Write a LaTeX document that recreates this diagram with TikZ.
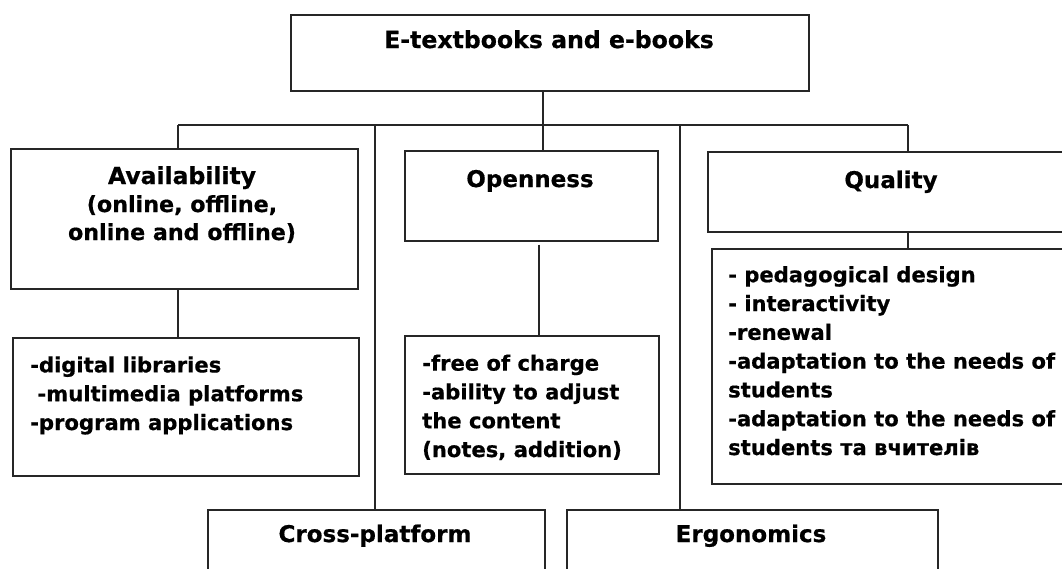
\documentclass[tikz,border=0pt]{standalone}
\usepackage{fontspec}
\setmainfont{DejaVu Sans}[BoldFeatures={FakeBold=0.6}]
\begin{document}
\begin{tikzpicture}[x=1pt,y=-1pt,
  box/.style={draw=black!85, line width=1.7pt, inner sep=0pt, anchor=north west},
  txt/.style={inner sep=0pt, text=black, font=\fontsize{21.1}{28.8}\selectfont\bfseries},
  hdr/.style={inner sep=0pt, text=black, font=\fontsize{23}{28}\selectfont\bfseries},
  ttl/.style={inner sep=0pt, text=black, font=\fontsize{23.6}{28}\selectfont\bfseries},
  conn/.style={draw=black!85, line width=1.5pt}]
\useasboundingbox (0,0) rectangle (1062,568);
\fill[white] (0,0) rectangle (1062,568);
\clip (0,0) rectangle (1062,568);
% boxes
\node[box, minimum width=518pt, minimum height=76pt]  (top)   at (290,14)  {};
\node[box, minimum width=347pt, minimum height=140pt] (avail) at (10,148)  {};
\node[box, minimum width=346pt, minimum height=138pt] (dig)   at (12,337)  {};
\node[box, minimum width=253pt, minimum height=90pt]  (open)  at (404,150) {};
\node[box, minimum width=254pt, minimum height=138pt] (olow)  at (404,335) {};
\node[box, minimum width=368pt, minimum height=80pt]  (qual)  at (707,151) {};
\node[box, minimum width=364pt, minimum height=235pt] (qlow)  at (711,248) {};
\node[box, minimum width=337pt, minimum height=80pt]  (cross) at (207,509) {};
\node[box, minimum width=371pt, minimum height=80pt]  (ergo)  at (566,509) {};
% texts (base anchor of a multi-line node = baseline of its last line)
\node[ttl, anchor=base] (toptxt) at (549,48) {E-textbooks and e-books};
\node[hdr, anchor=base, align=center, font=\fontsize{22.2}{28}\selectfont\bfseries] (availtxt) at (182,240) {{\fontsize{23.5}{28}\selectfont Availability}\\(online, offline,\\online and offline)};
\node[hdr, anchor=base] (opentxt) at (530,187) {Openness};
\node[hdr, anchor=base] (qualtxt) at (891,188) {Quality};
\node[txt, anchor=base west, align=left] (digtxt) at (30,430) {-digital libraries\\\ -multimedia platforms\\-program applications};
\node[txt, anchor=base west, align=left] (olowtxt) at (422,457) {-free of charge\\-ability to adjust\\the content\\(notes, addition)};
\node[txt, anchor=base west, align=left] (qlowtxt) at (728,455) {- pedagogical design\\- interactivity\\-renewal\\-adaptation to the needs of\\students\\-adaptation to the needs of\\students та вчителів};
\node[hdr, anchor=base] (crosstxt) at (375,542) {Cross-platform};
\node[hdr, anchor=base] (ergotxt) at (751,542) {Ergonomics};
% connectors
\coordinate (b1) at (178,125);
\coordinate (b2) at (375,125);
\coordinate (b3) at (543,125);
\coordinate (b4) at (680,125);
\coordinate (b5) at (908,125);
\coordinate (c3) at (539,0);
\draw[conn] (top.south -| b3) -- (b3);
\draw[conn] (b1) -- (b5);
\draw[conn] (b1) -- (b1 |- avail.north);
\draw[conn] (b2) -- (b2 |- cross.north);
\draw[conn] (b3) -- (b3 |- open.north);
\draw[conn] (b4) -- (b4 |- ergo.north);
\draw[conn] (b5) -- (b5 |- qual.north);
\draw[conn] (b1 |- avail.south) -- (b1 |- dig.north);
\draw[conn] ([yshift=-3pt]c3 |- open.south) -- (c3 |- olow.north);
\draw[conn] (b5 |- qual.south) -- (b5 |- qlow.north);
\end{tikzpicture}
\end{document}
